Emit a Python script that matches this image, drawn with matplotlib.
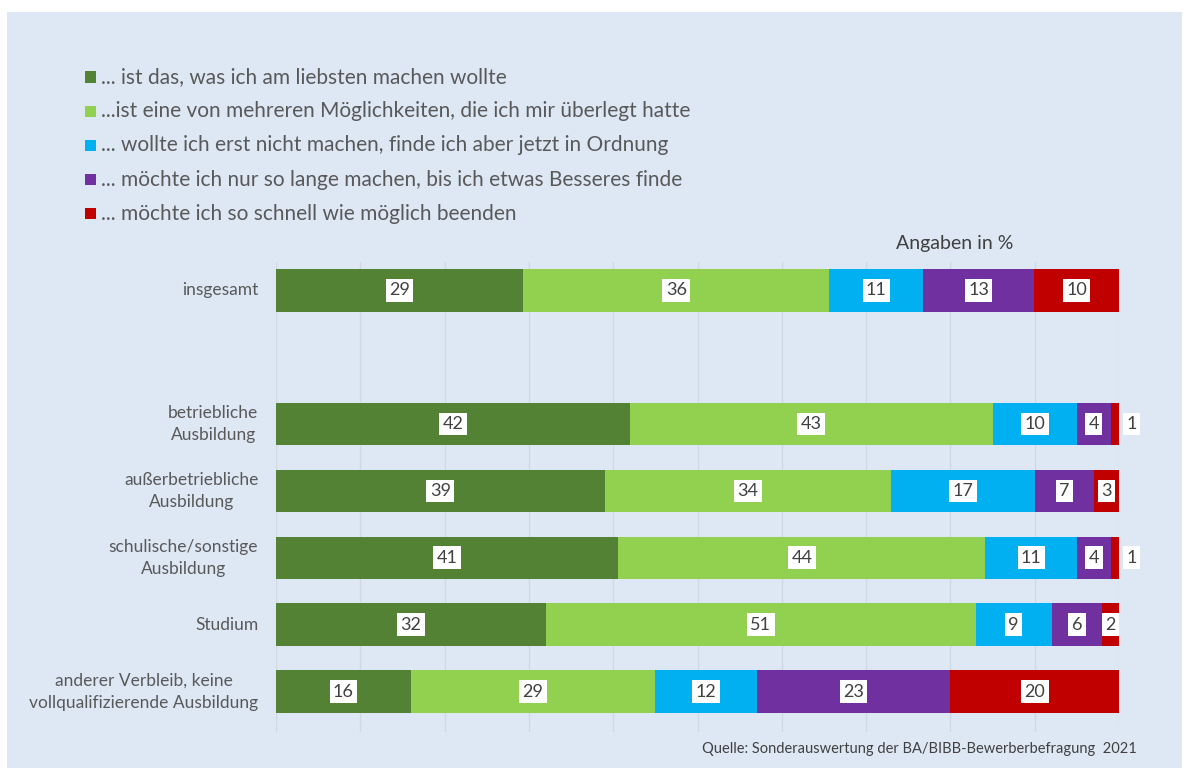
import matplotlib.pyplot as plt
from matplotlib.patches import Rectangle

plt.rcParams['font.family'] = ['Lato', 'DejaVu Sans']

categories = ["insgesamt", "betriebliche\nAusbildung", "außerbetriebliche\nAusbildung",
              "schulische/sonstige\nAusbildung", "Studium",
              "anderer Verbleib, keine\nvollqualifizierende Ausbildung"]
positions = [0, 2, 3, 4, 5, 6]

series_names = ["... ist das, was ich am liebsten machen wollte",
                "...ist eine von mehreren Möglichkeiten, die ich mir überlegt hatte",
                "... wollte ich erst nicht machen, finde ich aber jetzt in Ordnung",
                "... möchte ich nur so lange machen, bis ich etwas Besseres finde",
                "... möchte ich so schnell wie möglich beenden"]
am_liebsten = [29, 42, 39, 41, 32, 16]
moeglichkeit = [36, 43, 34, 44, 51, 29]
erst_nicht = [11, 10, 17, 11, 9, 12]
so_lange = [13, 4, 7, 4, 6, 23]
beenden = [10, 1, 3, 1, 2, 20]
colors = ["#548235", "#92d050", "#00b0f0", "#7030a0", "#c00000"]

series = [am_liebsten, moeglichkeit, erst_nicht, so_lange, beenden]
totals = [sum(s[i] for s in series) for i in range(len(categories))]

bg = "#dee8f5"
txt = "#595959"

fig = plt.figure(figsize=(11.89, 7.72), dpi=100)
fig.patch.set_facecolor("white")
fig.patches.append(Rectangle((7 / 1189, 4 / 772), 1175 / 1189, 756 / 772,
                             transform=fig.transFigure, facecolor=bg,
                             edgecolor="none", zorder=-5))

ax = fig.add_axes([276 / 1189, 1 - 732 / 772, 843 / 1189, 470 / 772])
ax.set_zorder(2)
ax.set_facecolor("none")
ax.set_xlim(0, 100)
ax.set_ylim(6.6, -0.42)
for s in ax.spines.values():
    s.set_visible(False)
ax.set_xticks(range(0, 101, 10))
ax.set_xticklabels([])
ax.tick_params(length=0)
ax.set_yticks([])
ax.grid(axis="x", color="#d0d8e2", linewidth=1)
ax.set_axisbelow(True)

for i, pos in enumerate(positions):
    left = 0.0
    for vals, col in zip(series, colors):
        w = vals[i] / totals[i] * 100
        ax.barh(pos, w, left=left, height=0.64, color=col, edgecolor="none")
        if vals[i] <= 1:
            x = 101.5
        else:
            x = left + w / 2
        ax.text(x, pos, str(vals[i]), ha="center", va="center", fontsize=13,
                color="#404040", clip_on=False,
                bbox=dict(facecolor="white", edgecolor="none", pad=2.5))
        left += w
    ax.text(-2.1, pos, categories[i], ha="right", va="center", ma="center",
            fontsize=12.5, color=txt, linespacing=1.45)

# legend
for k, (name, col) in enumerate(zip(series_names, colors)):
    y = 1 - (77 + k * 34.2) / 772
    fig.patches.append(Rectangle((85 / 1189, y - 5.5 / 772), 11 / 1189, 11 / 772,
                                 transform=fig.transFigure, facecolor=col,
                                 edgecolor="none"))
    fig.text(101 / 1189, y, name, ha="left", va="center", fontsize=15, color=txt)

fig.text(955 / 1189, 1 - 243 / 772, "Angaben in %", ha="center", va="center",
         fontsize=14, color="#404040")
fig.text(1137 / 1189, 1 - 749 / 772,
         "Quelle: Sonderauswertung der BA/BIBB-Bewerberbefragung  2021",
         ha="right", va="center", fontsize=10.5, color="#404040")

fig.savefig("out.png", dpi=100, facecolor=fig.get_facecolor())
